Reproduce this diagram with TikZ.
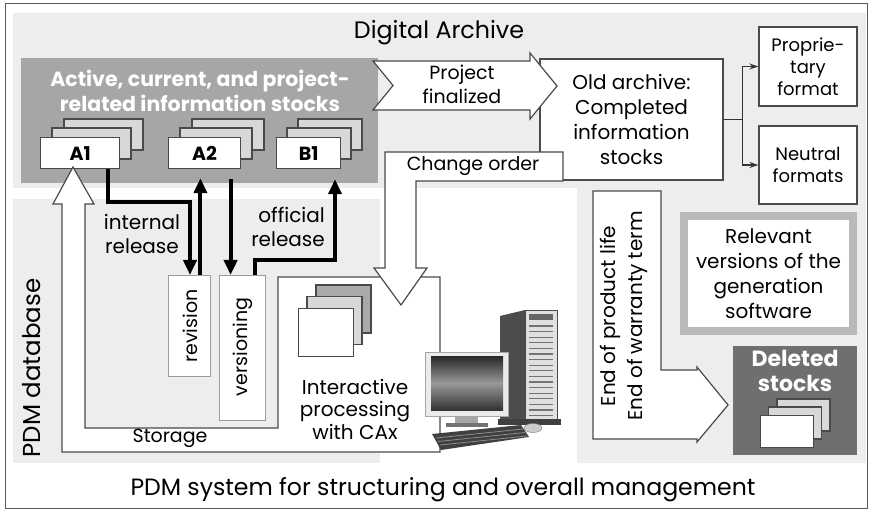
\documentclass[tikz,border=0pt]{standalone}
\usepackage{fontspec}
\setmainfont{Poppins}
\usetikzlibrary{arrows.meta}
\definecolor{panel}{HTML}{EDEDED}
\definecolor{activegray}{HTML}{A6A6A6}
\definecolor{deletedgray}{HTML}{6F6F6F}
\definecolor{pagegray}{HTML}{D8D8D8}
\definecolor{reargray}{HTML}{A9A9A9}
\definecolor{edge}{HTML}{4A4A4A}
\definecolor{softedge}{HTML}{9C9C9C}
\definecolor{ringgray}{HTML}{B9B9B9}
\def\fs#1#2{\fontsize{#1}{#2}\selectfont}
% two back pages of a pile (top left x,y)(size)(step){rear fill}
\def\docpile(#1,#2)(#3,#4)(#5,#6)#7{%
  \draw[page,fill=#7] (#1+2*#5,#2-2*#6) rectangle ++(#3,#4);
  \draw[page,fill=pagegray] (#1+#5,#2-#6) rectangle ++(#3,#4);}

\begin{document}
\begin{tikzpicture}[x=1pt,y=-1pt,
    page/.style={draw=edge,line width=1.2pt},
    front/.style={page,fill=white,inner sep=0pt,anchor=north west,font=\bfseries\fs{19}{22}},
    hollow/.style={draw=edge,fill=white,line width=1.2pt,line join=miter},
    flow/.style={line width=4pt,-{Triangle[length=15pt,width=13pt]}},
    fork/.style={draw=black!80,line width=1.6pt},
    card/.style={draw=edge,fill=white,line width=1.2pt,align=center,inner sep=0pt},
    slim/.style={draw=softedge,fill=white,line width=0.8pt,anchor=north west,inner sep=0pt},
    lbl/.style={align=center,inner sep=0pt,font=\fs{20}{24}}]
\useasboundingbox (0,0) rectangle (869,510);
%%%%% START %%%%%
\draw[black!65,line width=1pt] (5,4) rectangle (867,508);

% grey areas: archive (L shape) and PDM database
\fill[panel] (13,13) -- (866,13) -- (866,463) -- (577,463) -- (577,188) -- (13,188) -- cycle;
\fill[panel] (13,199) rectangle (380,463);
\fill[activegray] (21,58) rectangle (378,183);

\node[lbl,font=\fs{23.8}{28}] (archive) at (439,33) {Digital Archive};
\node[lbl,text=white,font=\bfseries\fs{20.5}{25}] (active) at (200,91) {Active, current, and project-\\related information stocks};
\node[lbl,rotate=90,font=\fs{24.5}{28}] (pdmdb) at (32,368) {PDM database};
\node[lbl,font=\fs{23.6}{28}] (pdmsys) at (443,490) {PDM system for structuring and overall management};

% information stocks
\docpile(40,137)(79,31)(12,9){pagegray}
\node[front,minimum width=79,minimum height=31] (A1) at (40,137) {A1};
\docpile(168,137)(72,31)(12,9){pagegray}
\node[front,minimum width=72,minimum height=31] (A2) at (168,137) {A2};
\docpile(276,137)(64,31)(11,9){pagegray}
\node[front,minimum width=64,minimum height=31] (B1) at (276,137) {B1};

% storage loop back to A1
\draw[hollow] (440,277) -- (440,452) -- (62,452) -- (62,204) -- (53,204) -- (73,167)
  -- (94,204) -- (85,204) -- (85,428) -- (278,428) -- (278,277) -- cycle;
\node[lbl,font=\fs{19}{22}] (storage) at (170,438) {Storage};

\node[slim,minimum width=42,minimum height=101] (rev) at (168,275) {};
\node[lbl,rotate=90,font=\fs{19}{22}] at (190,326) {revision};
\node[slim,minimum width=46,minimum height=145] (ver) at (219,275) {};
\node[lbl,rotate=90,font=\fs{19}{22}] at (243,347) {versioning};

% release paths
\coordinate (k1) at (190,202);
\draw[flow] ([xshift=27.5pt]A1.south) |- (k1) -- (k1 |- rev.north);
\coordinate (r2) at ([xshift=11pt]rev.north);
\draw[flow,shorten >=9pt] (r2) -- (r2 |- A2.south);
\coordinate (a2d) at ([xshift=26pt]A2.south);
\draw[flow,shorten <=10pt] (a2d) -- (a2d |- ver.north);
\coordinate (v1) at ([xshift=13pt]ver.north);
\coordinate (k2) at (335,260);
\draw[flow,shorten >=10pt] (v1) |- (k2) -- (k2 |- B1.south);
\node[lbl] (intrel) at (142,234) {internal\\release};
\node[lbl,align=right,anchor=east] (offrel) at (325,227) {official\\release};

% CAx workplace
\docpile(298,308)(55,48)(9,11.5){reargray}
\node[front,minimum width=55,minimum height=48] (caxdoc) at (298,308) {};
\node[lbl,font=\fs{20}{22.5}] (cax) at (355,409) {Interactive\\processing\\with CAx};

% computer
\fill[black!70] (500,316) -- (525,310) -- (525,421) -- (500,424) -- cycle;
\draw[edge,fill=black!12] (525,310) rectangle (557,421);
\fill[black!60] (529,314) rectangle (553,320);
\foreach \k in {0,...,16}
  \draw[black!55,line width=1.3pt] (529,326+5.6*\k) -- (553,326+5.6*\k);
\fill[black!75] (498,419) rectangle (561,425);
\draw[black!35,fill=black!8] (425,352) rectangle (508,416);
\shade[top color=black!85,bottom color=black!80,middle color=black!40] (431,356) rectangle (503,410);
\fill[black!35] (455,416) rectangle (478,423);
\fill[black!55] (446,423) rectangle (488,427);
\fill[black!75] (432,434) -- (521,425) -- (529,437) -- (441,450) -- cycle;
\foreach \k in {0,1,2}
  \draw[black!45,line width=0.8pt] (436+2*\k,438+3.5*\k) -- (523+2*\k,429+3.5*\k);
\draw[black!50,fill=black!20] (533,428) ellipse (9 and 4.5);

% old archive and formats
\node[card,minimum width=183,minimum height=121,font=\fs{20}{24.7}] (old) at (631.5,119.5)
  {Old archive:\\Completed\\information\\stocks};

% change order back into processing
\draw[hollow] (385,152) -- (563,152) -- (563,181) -- (416,181) -- (416,268) -- (427,268)
  -- (401,305) -- (374,268) -- (385,268) -- cycle;
\node[lbl,font=\fs{19}{22}] (chg) at (473,166) {Change order};

\draw[hollow] (373,61) -- (530,61) -- (530,53) -- (557,86) -- (530,119) -- (530,110)
  -- (373,110) -- (393,85.5) -- cycle;
\node[lbl,font=\fs{19}{24}] (projfin) at (462,84) {Project\\finalized};

\node[card,minimum width=98,minimum height=79,font=\fs{18}{22}] (prop) at (808,66.5) {Proprie-\\tary\\format};
\node[card,minimum width=98,minimum height=78,font=\fs{18}{22}] (neutral) at (808,165) {Neutral\\formats};
\draw[fork] (old.east) -- ++(19,0) coordinate (split);
\draw[fork,-{Stealth[length=9pt,width=6pt]}] (split) |- (prop.west);
\draw[fork,-{Stealth[length=9pt,width=6pt]}] (split) |- (neutral.west);

\node[draw=ringgray,line width=8pt,fill=white,minimum width=169,minimum height=115,
  align=center,inner sep=0pt,font=\fs{20}{25}] (relevant) at (768.5,273.5)
  {Relevant\\versions of the\\generation\\software};

% end of life to deleted stocks
\draw[hollow] (593,191) -- (661,191) -- (661,370) -- (697,370) -- (697,367) -- (728,405)
  -- (697,442) -- (697,439) -- (593,439) -- cycle;
\node[lbl,rotate=90,font=\fs{20}{27}] (eol) at (623.5,316) {End of product life\\End of warranty term};

\fill[deletedgray] (733,346) rectangle (857,455);
\node[lbl,text=white,font=\bfseries\fs{22}{25}] (deleted) at (795,370.5) {Deleted\\stocks};
\docpile(760,415)(53,32)(8.5,8){pagegray}
\node[front,minimum width=53,minimum height=32] (deldoc) at (760,415) {};
%%%%% END %%%%%
\end{tikzpicture}
\end{document}
